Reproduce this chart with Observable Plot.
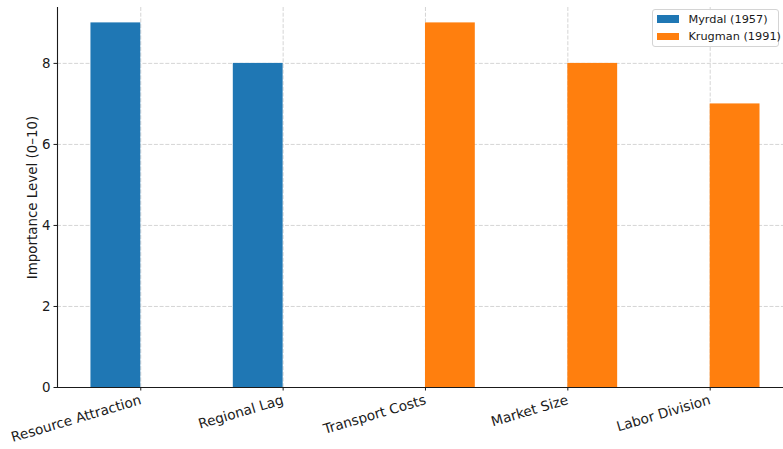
<!DOCTYPE html>
<html>
<head>
<meta charset="utf-8">
<script src="https://cdn.jsdelivr.net/npm/d3@7"></script>
<script src="https://cdn.jsdelivr.net/npm/@observablehq/plot@0.6"></script>
<style>
  html, body { margin: 0; padding: 0; background: #fff; }
  #chart { position: relative; width: 783px; height: 449px; font-family: "DejaVu Sans", sans-serif; }
  .legend {
    position: absolute; left: 652px; top: 9px; width: 127px; height: 38px;
    border: 1px solid #d4d4d4; border-radius: 3px; background: rgba(255,255,255,0.85);
    font-size: 11.3px; color: #1a1a1a; box-sizing: border-box;
  }
  .legend .row { position: absolute; left: 4px; display: flex; align-items: center; white-space: nowrap; }
  .legend .sw { width: 22.4px; height: 7.7px; margin-right: 9px; }
</style>
</head>
<body>
<div id="chart"></div>
<script>
// Factors of regional development and their importance in two theories
const categories = ["Resource Attraction", "Regional Lag", "Transport Costs", "Market Size", "Labor Division"];
const myrdal = [9, 8, 0, 0, 0];
const krugman = [0, 0, 9, 8, 7];
const seriesNames = ["Myrdal (1957)", "Krugman (1991)"];
const seriesColors = ["#1f77b4", "#ff7f0e"];
const yTicks = [0, 2, 4, 6, 8];

const barWidth = 0.35;
const rows = categories.flatMap((c, i) => [
  {category: c, i, series: seriesNames[0], shift: -1, value: myrdal[i]},
  {category: c, i, series: seriesNames[1], shift: 0, value: krugman[i]}
]).filter(d => d.value > 0);

const gridStyle = {stroke: "#d0d0d0", strokeOpacity: 1, strokeWidth: 0.9, strokeDasharray: "4,1.7"};
const ink = "#1a1a1a";

const chart = Plot.plot({
  width: 783,
  height: 449,
  marginLeft: 57,
  marginRight: 0,
  marginTop: 7,
  marginBottom: 62,
  style: {fontFamily: "DejaVu Sans, sans-serif", fontSize: "13.4px", color: ink, background: "#fff"},
  x: {type: "linear", domain: [-0.585, 4.515], ticks: d3.range(categories.length), tickFormat: () => "", tickSize: 3.5, label: null},
  y: {domain: [0, 9.38], ticks: yTicks, tickSize: 3.5, tickPadding: 3.5, label: null},
  color: {domain: seriesNames, range: seriesColors},
  marks: [
    Plot.gridY(yTicks, gridStyle),
    Plot.gridX(d3.range(categories.length), gridStyle),
    Plot.rectY(rows, {
      x1: d => d.i + d.shift * barWidth,
      x2: d => d.i + (d.shift + 1) * barWidth,
      y1: 0,
      y2: "value",
      fill: "series",
      inset: 0
    }),
    Plot.ruleX([-0.585], {stroke: ink, strokeWidth: 1.1}),
    Plot.ruleY([0], {stroke: ink, strokeWidth: 1.1}),
    Plot.text(categories, {
      x: (d, i) => i,
      frameAnchor: "bottom",
      dx: -1.5,
      dy: 7,
      text: d => d,
      rotate: -16.5,
      textAnchor: "end",
      lineAnchor: "top",
      fill: ink,
      fontSize: 13.7
    }),
    Plot.text(["Importance Level (0–10)"], {
      frameAnchor: "left",
      dx: -25,
      rotate: -90,
      textAnchor: "middle",
      lineAnchor: "middle",
      fill: ink,
      fontSize: 13.4
    })
  ]
});

const root = document.getElementById("chart");
root.appendChild(chart);

// Legend box in the upper right of the plotting area
const legend = document.createElement("div");
legend.className = "legend";
seriesNames.forEach((name, k) => {
  const row = document.createElement("div");
  row.className = "row";
  row.style.top = (2.5 + k * 17.5) + "px";
  const sw = document.createElement("span");
  sw.className = "sw";
  sw.style.background = seriesColors[k];
  const label = document.createElement("span");
  label.textContent = name;
  row.appendChild(sw);
  row.appendChild(label);
  legend.appendChild(row);
});
root.appendChild(legend);
</script>
</body>
</html>
